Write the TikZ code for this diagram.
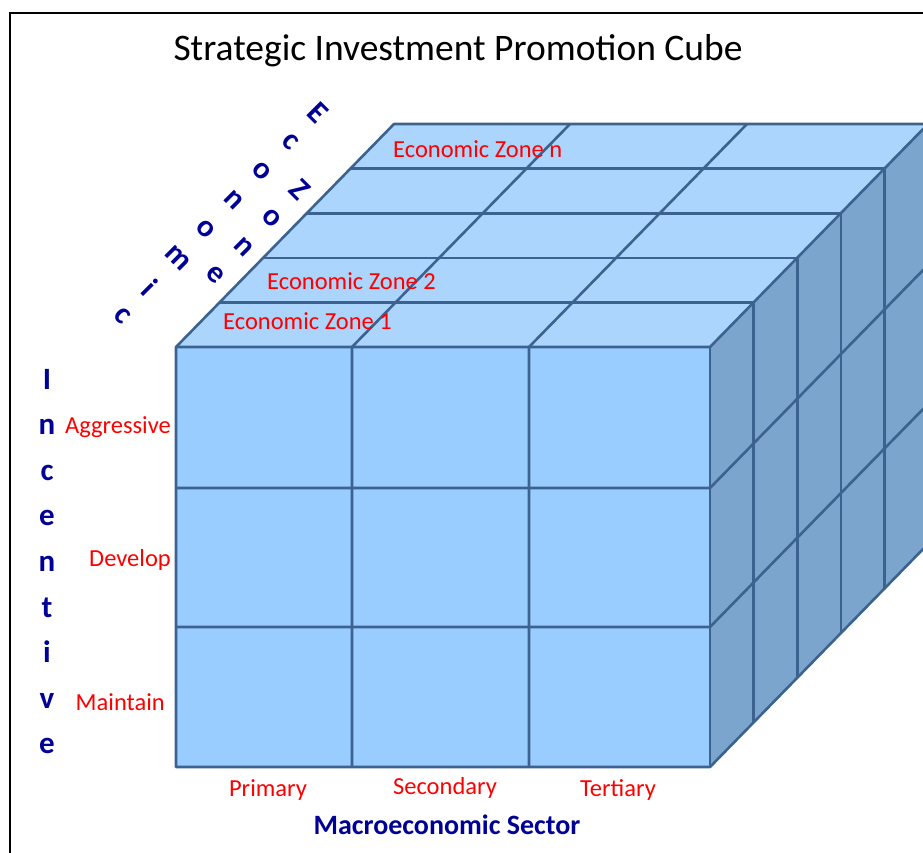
\documentclass[tikz,border=0pt]{standalone}
\usepackage{fontspec}
\setmainfont{Carlito}
\usepackage{tikz}
\usetikzlibrary{positioning}
\usetikzlibrary{calc}
\definecolor{frontblue}{HTML}{99CCFF}
\definecolor{topblue}{HTML}{ACD5FE}
\definecolor{sideblue}{HTML}{7BA5CD}
\definecolor{edgeblue}{HTML}{3C6290}
\definecolor{axisblue}{RGB}{0,0,150}
\tikzset{grid line/.style={draw=edgeblue,line width=2.6pt,line join=round},
  axis letter/.style={text=axisblue,font=\fontsize{31}{31}\selectfont\bfseries,inner sep=0pt},
  axis title/.style={text=axisblue,font=\fontsize{28}{28}\selectfont\bfseries,inner sep=0pt},
  level label/.style={text=red,font=\fontsize{24.5}{24.5}\selectfont,inner sep=0pt},}

\begin{document}
\begin{tikzpicture}[x=1pt,y=-1pt]
    \useasboundingbox (0,0) rectangle (923,852);
    \draw[line width=2pt] (10,870) -- (10,13) -- (940,13);
    \node[font=\fontsize{37.5}{37.5}\selectfont,inner sep=0pt] (title) at (458,51) {Strategic Investment Promotion Cube};

    \coordinate (ftl) at (176,347);
    \coordinate (ftr) at (710,347);
    \coordinate (fbr) at (710,767);
    \coordinate (fbl) at (176,767);
    \coordinate (btl) at ($(ftl)+5*(43.6,-44.6)$);
    \coordinate (btr) at ($(ftr)+5*(43.6,-44.6)$);
    \coordinate (bbr) at ($(fbr)+5*(43.6,-44.6)$);

    \fill[frontblue] (ftl) rectangle (fbr);
    \fill[topblue] (ftl) -- (ftr) -- (btr) -- (btl) -- cycle;
    \fill[sideblue] (ftr) -- (btr) -- (bbr) -- (fbr) -- cycle;

    \foreach \k in {1,...,4}
        \draw[grid line] ($(ftl)+\k*(43.6,-44.6)$) -- ($(ftr)+\k*(43.6,-44.6)$) -- ($(fbr)+\k*(43.6,-44.6)$);
    \foreach \y in {488,627}
        \draw[grid line] (176,\y) -- (710,\y) -- ++(218,-223);
    \foreach \x in {352,529}
        \draw[grid line] (\x,767) -- (\x,347) -- ++(218,-223);
    \draw[grid line] (fbl) -- (ftl) -- (btl) -- (btr) -- (bbr) -- (fbr) -- cycle;
    \draw[grid line] (ftl) -- (ftr) -- (btr);
    \draw[grid line] (ftr) -- (fbr);

    \node[level label,anchor=west] (zone1) at (223,321) {Economic Zone 1};
    \node[level label,anchor=west] (zone2) at (267,281) {Economic Zone 2};
    \node[level label,anchor=west] (zonen) at (393,149) {Economic Zone n};

    \node[level label,anchor=east] (aggressive) at (171,427) {Aggressive};
    \node[level label,anchor=east] (develop) at (171,560) {Develop};
    \node[level label,anchor=east] (maintain) at (165,702) {Maintain};

    \node[level label] (primary) at (268,790) {Primary};
    \node[level label] (secondary) at (445,788) {Secondary};
    \node[level label] (tertiary) at (618,790) {Tertiary};
    \node[axis title] (sector) at (447,825) {Macroeconomic Sector};

    \foreach \c [count=\i from 0] in {I,n,c,e,n,t,i,v,e}
        \node[axis letter,anchor=base] (inc\i) at (47,{389+45.6*\i}) {\c};
    \foreach \c [count=\i from 0] in {E,c,o,n,o,m,i,c}
        \node[axis letter,rotate=-45] (eco\i) at ({318-28*\i},{113+29*\i}) {\c};
    \foreach \c [count=\i from 0] in {Z,o,n,e}
        \node[axis letter,rotate=-45] (zone\i) at ({300-28.3*\i},{190+28.3*\i}) {\c};
\end{tikzpicture}
\end{document}
